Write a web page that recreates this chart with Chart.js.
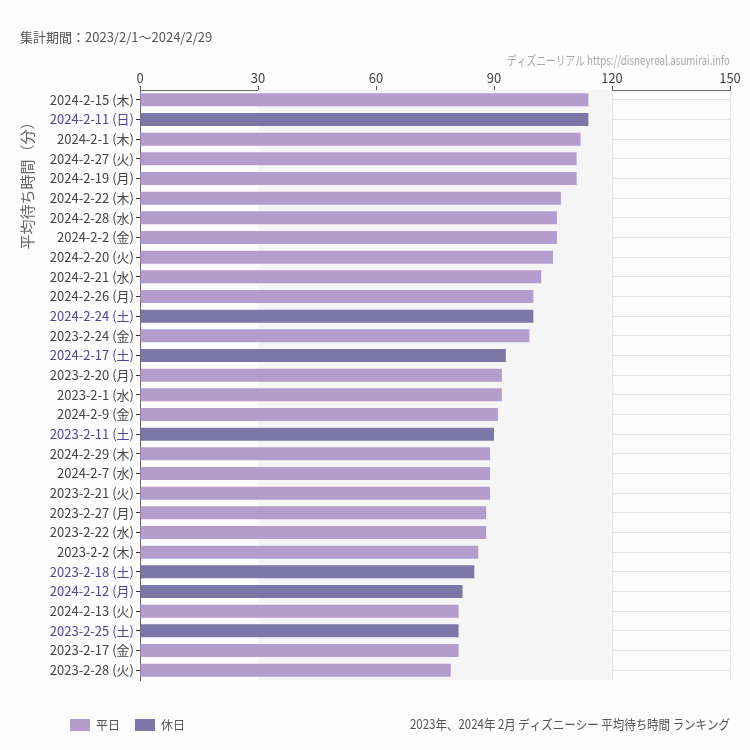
<!DOCTYPE html>
<html>
<head>
<meta charset="utf-8">
<script src="https://cdn.jsdelivr.net/npm/chart.js@4"></script>
<style>
  html, body { margin: 0; padding: 0; background: #fcfdfc; }
  #wrap { width: 750px; height: 750px; position: relative; }
</style>
</head>
<body>
<div id="wrap"><canvas id="c" width="750" height="750"></canvas></div>
<script>
const categories = ["2024-2-15 (木)","2024-2-11 (日)","2024-2-1 (木)","2024-2-27 (火)","2024-2-19 (月)","2024-2-22 (木)","2024-2-28 (水)","2024-2-2 (金)","2024-2-20 (火)","2024-2-21 (水)","2024-2-26 (月)","2024-2-24 (土)","2023-2-24 (金)","2024-2-17 (土)","2023-2-20 (月)","2023-2-1 (水)","2024-2-9 (金)","2023-2-11 (土)","2024-2-29 (木)","2024-2-7 (水)","2023-2-21 (火)","2023-2-27 (月)","2023-2-22 (水)","2023-2-2 (木)","2023-2-18 (土)","2024-2-12 (月)","2024-2-13 (火)","2023-2-25 (土)","2023-2-17 (金)","2023-2-28 (火)"];
const waitMinutes = [114,114,112,111,111,107,106,106,105,102,100,100,99,93,92,92,91,90,89,89,89,88,88,86,85,82,81,81,81,79];
const isHoliday = [0,1,0,0,0,0,0,0,0,0,0,1,0,1,0,0,0,1,0,0,0,0,0,0,1,1,0,1,0,0];
const xTicks = [0,30,60,90,120,150];
const legendLabels = ["平日","休日"];

const WEEKDAY_COLOR = "#b39dcd";
const HOLIDAY_COLOR = "#7c77a6";
const FONT = "'Noto Sans CJK JP', 'Noto Sans', sans-serif";

const decor = {
  id: 'decor',
  beforeDatasetsDraw(chart) {
    const ctx = chart.ctx, x = chart.scales.x, a = chart.chartArea;
    ctx.save();
    ctx.fillStyle = '#f4f5f4';
    const x1 = x.getPixelForValue(30), x2 = x.getPixelForValue(120);
    ctx.fillRect(x1, a.top, x2 - x1, a.bottom - a.top);
    ctx.restore();
  },
  beforeDraw(chart) {
    const ctx = chart.ctx, x = chart.scales.x, a = chart.chartArea;
    ctx.save();
    ctx.fillStyle = '#fcfdfc';
    ctx.fillRect(0, 0, chart.width, chart.height);
    ctx.restore();
  },
  afterDraw(chart) {
    const ctx = chart.ctx;
    ctx.save();
    // top-left period
    ctx.fillStyle = '#555';
    ctx.font = "13px " + FONT;
    ctx.textBaseline = 'middle';
    ctx.textAlign = 'left';
    ctx.fillText("集計期間：2023/2/1〜2024/2/29", 20, 37);

    // condensed text helper
    function condensed(text, right, cy, width, size, color) {
      ctx.save();
      ctx.font = size + "px " + FONT;
      const w = ctx.measureText(text).width;
      const s = width / w;
      ctx.translate(right - width, cy);
      ctx.scale(s, 1);
      ctx.fillStyle = color;
      ctx.textAlign = 'left';
      ctx.textBaseline = 'middle';
      ctx.fillText(text, 0, 0);
      ctx.restore();
    }
    condensed("ディズニーリアル https://disneyreal.asumirai.info", 730, 60, 223, 13, '#a8a8a8');
    condensed("2023年、2024年 2月 ディズニーシー 平均待ち時間 ランキング", 730, 724, 320, 13, '#555');

    // y axis title
    ctx.save();
    ctx.translate(27, 182);
    ctx.rotate(-Math.PI / 2);
    ctx.font = "15px " + FONT;
    ctx.fillStyle = '#666';
    ctx.textAlign = 'center';
    ctx.textBaseline = 'middle';
    ctx.fillText("平均待ち時間（分）", 0, 0);
    ctx.restore();

    // legend
    const colors = [WEEKDAY_COLOR, HOLIDAY_COLOR];
    const xs = [70, 135];
    ctx.font = "12px " + FONT;
    ctx.textAlign = 'left';
    ctx.textBaseline = 'middle';
    legendLabels.forEach((l, i) => {
      ctx.fillStyle = colors[i];
      ctx.fillRect(xs[i], 719, 20, 12);
      ctx.fillStyle = '#555';
      ctx.fillText(l, xs[i] + 26, 725);
    });
    ctx.restore();
  }
};

new Chart(document.getElementById('c'), {
  type: 'bar',
  data: {
    labels: categories,
    datasets: [{
      label: '平均待ち時間',
      data: waitMinutes,
      backgroundColor: isHoliday.map(h => h ? HOLIDAY_COLOR : WEEKDAY_COLOR),
      borderWidth: 0,
      barPercentage: 0.66,
      categoryPercentage: 1.0
    }]
  },
  options: {
    indexAxis: 'y',
    responsive: false,
    animation: false,
    devicePixelRatio: 1,
    layout: { padding: { left: 0, top: 0, right: 20, bottom: 70 } },
    plugins: { legend: { display: false }, tooltip: { enabled: false } },
    scales: {
      x: {
        position: 'top',
        min: 0, max: 150,
        afterBuildTicks(axis) { axis.ticks = xTicks.map(v => ({ value: v })); },
        afterFit(axis) { axis.height = 90; },
        ticks: { color: '#444', font: { family: FONT, size: 13 }, padding: 0 },
        grid: { color: '#e6e6e6', tickColor: '#555', tickLength: 4, lineWidth: 1 },
        border: { color: '#666', width: 1 }
      },
      y: {
        afterFit(axis) { axis.width = 140; },
        ticks: {
          color: (c) => isHoliday[c.index] ? '#4f4697' : '#444',
          font: { family: FONT, size: 13 },
          padding: 2,
          autoSkip: false
        },
        grid: { offset: false, color: '#e6e6e6', tickColor: '#333', tickLength: 4 },
        border: { color: '#666', width: 1 }
      }
    }
  },
  plugins: [decor]
});
</script>
</body>
</html>
